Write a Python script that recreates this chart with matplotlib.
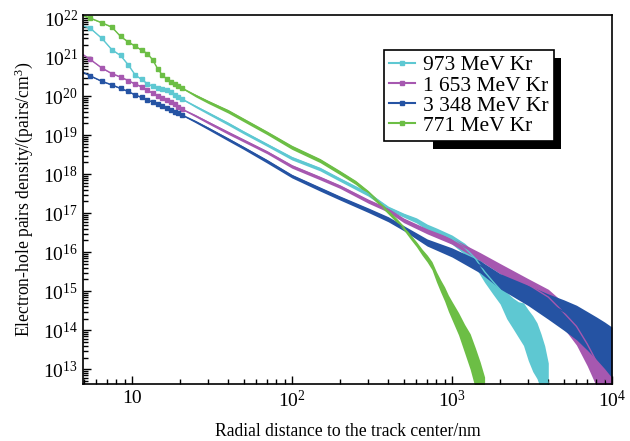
import numpy as np
import matplotlib
matplotlib.use('Agg')
import matplotlib.pyplot as plt
from matplotlib.lines import Line2D
from matplotlib.patches import Rectangle
from matplotlib.transforms import IdentityTransform
from matplotlib.ticker import FixedLocator, LogLocator, NullFormatter

plt.rcParams['font.family'] = ['Liberation Serif', 'DejaVu Serif']
plt.rcParams['mathtext.fontset'] = 'custom'
plt.rcParams['mathtext.rm'] = 'Liberation Serif'
plt.rcParams['mathtext.it'] = 'Liberation Serif:italic'

# 973 MeV Kr
kr973_x = [4.5, 5.5, 6.5, 7.5, 8.5, 9.5, 10.5, 11.5, 12.5, 13.5, 14.5, 15.5, 16.5, 17.5, 18.5, 19.5, 20.5,
           25, 30, 40, 50, 70, 100, 150, 200, 300, 400,
           500, 600, 700, 800, 1000, 1200, 1400, 1600, 1800, 2000,
           2200, 2400, 2600, 2800, 3000, 3200, 3400, 3600, 3800, 4000]
kr973_y = [7.08e21, 5.50e21, 3.02e21, 1.55e21, 1.10e21, 6.31e20, 3.47e20, 2.69e20, 2.09e20, 1.78e20,
           1.58e20, 1.48e20, 1.41e20, 1.29e20, 1.10e20, 9.55e19, 8.51e19,
           5.50e19, 3.72e19, 2.00e19, 1.20e19, 5.75e18, 2.63e18, 1.38e18, 7.41e17, 3.16e17, 1.38e17,
           9.12e16, 6.76e16, 4.57e16, 3.55e16, 2.24e16, 1.32e16, 6.92e15, 3.16e15, 1.78e15, 1.10e15,
           5.13e14, 3.39e14, 2.40e14, 1.91e14, 1.05e14, 6.61e13, 4.37e13, 2.29e13, 1.12e13, 4.07e12]
kr973_err = [0.008] * 17 + [0.02, 0.025, 0.03, 0.03, 0.03, 0.035, 0.035, 0.035, 0.04, 0.04,
                            0.04, 0.05, 0.06, 0.07, 0.09, 0.11, 0.14, 0.17, 0.2, 0.23,
                            0.26, 0.3, 0.35, 0.42, 0.5, 0.55, 0.55, 0.55, 0.55, 0.55]

# 1 653 MeV Kr
kr1653_x = [4.5, 5.5, 6.5, 7.5, 8.5, 9.5, 10.5, 11.5, 12.5, 13.5, 14.5, 15.5, 16.5, 17.5, 18.5, 19.5, 20.5,
            25, 30, 40, 50, 70, 100, 150, 200, 300, 400, 500,
            700, 1000, 1500, 2000, 3000, 4000, 5000, 6000, 7000, 8000, 9000, 10000]
kr1653_y = [1.51e21, 8.71e20, 5.25e20, 3.80e20, 3.09e20, 2.51e20, 2.04e20, 1.74e20, 1.41e20, 1.20e20,
            1.02e20, 8.91e19, 7.76e19, 6.92e19, 6.17e19, 5.25e19, 4.68e19,
            3.16e19, 2.14e19, 1.17e19, 7.41e18, 3.72e18, 1.62e18, 8.13e17, 4.90e17, 2.09e17, 1.23e17, 6.76e16,
            3.55e16, 2.00e16, 8.13e15, 4.07e15, 1.48e15, 7.08e14, 2.82e14, 1.26e14, 4.47e13, 1.58e13,
            6.31e12, 2.82e12]
kr1653_err = [0.008] * 17 + [0.02, 0.025, 0.03, 0.03, 0.03, 0.035, 0.035, 0.035, 0.04, 0.04, 0.045,
                             0.05, 0.06, 0.08, 0.1, 0.15, 0.2, 0.25, 0.3, 0.35, 0.4, 0.4, 0.4]

# 3 348 MeV Kr
kr3348_x = kr1653_x
kr3348_y = [5.01e20, 3.31e20, 2.40e20, 1.95e20, 1.58e20, 1.32e20, 1.07e20, 9.33e19, 7.94e19, 7.08e19,
            6.17e19, 5.50e19, 4.90e19, 4.47e19, 3.98e19, 3.63e19, 3.31e19,
            2.24e19, 1.51e19, 7.94e18, 4.79e18, 2.19e18, 9.12e17, 4.27e17, 2.51e17, 1.23e17, 7.24e16, 4.27e16,
            1.86e16, 1.05e16, 4.57e15, 2.00e15, 8.91e14, 4.79e14, 3.02e14, 2.00e14, 1.26e14, 8.32e13,
            5.62e13, 3.80e13]
kr3348_err = [0.008] * 17 + [0.02, 0.025, 0.03, 0.03, 0.035, 0.035, 0.04, 0.04, 0.045, 0.05, 0.05,
                             0.07, 0.09, 0.12, 0.15, 0.2, 0.25, 0.3, 0.34, 0.38, 0.42, 0.46, 0.5]

# 771 MeV Kr
kr771_x = [4.5, 5.5, 6.5, 7.5, 8.5, 9.5, 10.5, 11.5, 12.5, 13.5, 14.5, 15.5, 16.5, 17.5, 18.5, 19.5, 20.5,
           25, 30, 40, 50, 70, 100, 150, 200, 250, 300, 350, 400, 450, 500,
           550, 600, 650, 700, 750, 800, 850, 900, 950, 1000, 1100, 1200, 1300, 1400, 1500, 1600]
kr771_y = [1.35e22, 1.00e22, 7.59e21, 5.89e21, 3.39e21, 2.45e21, 1.91e21, 1.51e21, 1.23e21, 8.51e20,
           5.01e20, 3.47e20, 2.75e20, 2.29e20, 2.04e20, 1.82e20, 1.62e20,
           1.05e20, 7.24e19, 4.17e19, 2.51e19, 1.17e19, 5.01e18, 2.29e18, 1.12e18, 6.31e17, 3.47e17,
           1.91e17, 1.10e17, 6.76e16, 4.27e16,
           2.57e16, 1.66e16, 1.05e16, 7.24e15, 4.79e15, 2.51e15, 1.48e15, 9.33e14, 5.50e14, 3.63e14,
           1.70e14, 7.41e13, 3.63e13, 1.41e13, 6.17e12, 2.51e12]
kr771_err = [0.008] * 17 + [0.025, 0.03, 0.035, 0.035, 0.035, 0.04, 0.04, 0.04, 0.04, 0.04, 0.04, 0.04, 0.04, 0.04,
                            0.045, 0.05, 0.06, 0.07, 0.08, 0.1, 0.12, 0.14, 0.16, 0.18, 0.22, 0.28, 0.35, 0.4, 0.4, 0.4]

labels = ['973 MeV Kr', '1 653 MeV Kr', '3 348 MeV Kr', '771 MeV Kr']
colors = ['#5ec8d2', '#a658b0', '#2553a3', '#6cbe45']
series = [(kr973_x, kr973_y, kr973_err), (kr1653_x, kr1653_y, kr1653_err),
          (kr3348_x, kr3348_y, kr3348_err), (kr771_x, kr771_y, kr771_err)]

fig = plt.figure(figsize=(6.3, 4.41), dpi=100)
ax = fig.add_axes([0.1317, 0.1293, 0.8397, 0.8367])

for (x, y, e), c in zip(series, colors):
    x = np.array(x)
    y = np.array(y)
    e = np.array(e)
    # noisy tails drawn as a band, spikes go further down than up on a log axis
    ax.fill_between(x, y * 10 ** e, y / 10 ** (1.6 * e), color=c, lw=0)
    ax.plot(x, y, color=c, lw=1.0)
    low = x <= 21
    ax.plot(x[low], y[low], 's', color=c, ms=2.2)

ax.set_xscale('log')
ax.set_yscale('log')
ax.set_xlim(4.95, 1e4)
ax.set_ylim(4.2e12, 1.2e22)

ax.xaxis.set_major_locator(FixedLocator([10, 100, 1000, 10000]))
ax.set_xticklabels(['10', '$10^2$', '$10^3$', '$10^4$'])
ax.xaxis.set_minor_locator(LogLocator(base=10, subs=range(2, 10), numticks=20))
ax.xaxis.set_minor_formatter(NullFormatter())
yt = [10.0 ** k for k in range(13, 23)]
ax.yaxis.set_major_locator(FixedLocator(yt))
ax.set_yticklabels(['$10^{%d}$' % k for k in range(13, 23)])
ax.yaxis.set_minor_locator(LogLocator(base=10, subs=range(2, 10), numticks=30))
ax.yaxis.set_minor_formatter(NullFormatter())

ax.tick_params(which='both', direction='in', top=False, right=False, labelsize=14, width=1)
ax.tick_params(which='major', length=6)
ax.tick_params(which='minor', length=3.5)
ax.tick_params(axis='x', pad=4)
ax.tick_params(axis='y', pad=3.5)
for s in ax.spines.values():
    s.set_linewidth(1.2)

ax.set_xlabel('Radial distance to the track center/nm', fontsize=12.7, labelpad=9)
ax.set_ylabel('Electron-hole pairs density/(pairs/cm$^3$)', fontsize=12.7, labelpad=6)

handles = [Line2D([0], [0], color=c, lw=1.5, marker='s', ms=3) for c in colors]
leg = ax.legend(handles, labels, loc='upper left', bbox_to_anchor=(0.569, 0.905), borderaxespad=0,
                fontsize=15.5, frameon=True, fancybox=False, framealpha=1, edgecolor='black',
                handlelength=1.2, handletextpad=0.35, labelspacing=0.0, borderpad=0.25)
leg.get_frame().set_linewidth(1.2)
leg.set_zorder(6)

fig.canvas.draw()
bb = leg.get_window_extent()
shadow = Rectangle((bb.x0 + 0.29 * bb.width, bb.y0 - 8), bb.width * 0.71 + 7, bb.height,
                   transform=IdentityTransform(), facecolor='black', edgecolor='none', zorder=5, clip_on=False)
ax.add_patch(shadow)

fig.savefig('out.png', dpi=100)
